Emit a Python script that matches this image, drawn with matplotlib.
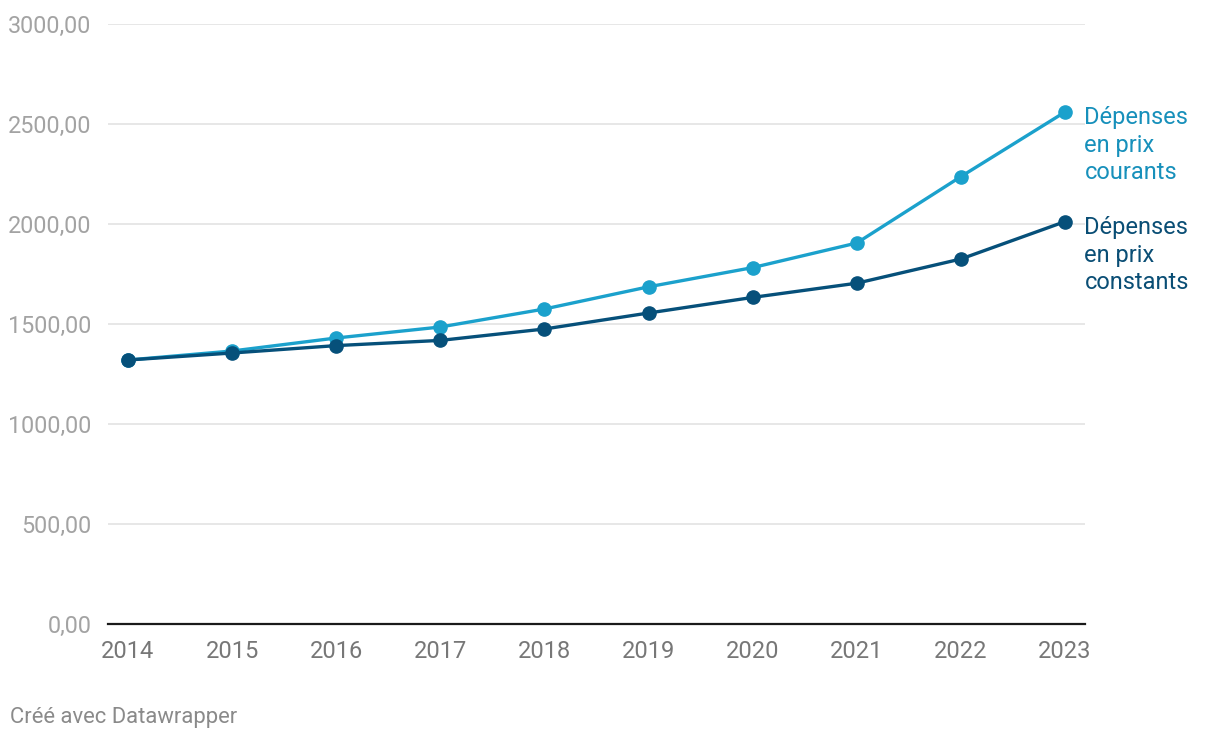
import numpy as np
import matplotlib.pyplot as plt

plt.rcParams['font.family'] = ['Roboto', 'DejaVu Sans']

# data
years = [2014, 2015, 2016, 2017, 2018, 2019, 2020, 2021, 2022, 2023]
courants = [1320, 1365, 1430, 1485, 1575, 1686, 1782, 1905, 2237, 2560]
constants = [1320, 1355, 1392, 1418, 1475, 1555, 1633, 1704, 1825, 2012]
yticks = [0, 500, 1000, 1500, 2000, 2500, 3000]
ytick_labels = ['0,00', '500,00', '1000,00', '1500,00', '2000,00', '2500,00', '3000,00']
label_courants = 'Dépenses\nen prix\ncourants'
label_constants = 'Dépenses\nen prix\nconstants'

c_light = '#1ba1cc'
c_dark = '#06507a'

fig = plt.figure(figsize=(12.2, 7.4), dpi=100)
ax = fig.add_axes([108/1220, 116/740, (1085-108)/1220, 600/740])

ax.plot(years, courants, color=c_light, lw=2.4, marker='o', ms=9.5, zorder=3,
        solid_capstyle='round')
ax.plot(years, constants, color=c_dark, lw=2.4, marker='o', ms=9.5, zorder=4,
        solid_capstyle='round')

ax.set_xlim(2014 - 20/104.2, 2023 + 20/104.2)
ax.set_ylim(0, 3000)
ax.set_yticks(yticks)
ax.set_yticklabels(ytick_labels)
ax.set_xticks(years)
ax.set_xticklabels([str(y) for y in years])

ax.grid(axis='y', color='#e3e3e3', lw=1.2)
ax.set_axisbelow(True)
for s in ['top', 'right', 'left']:
    ax.spines[s].set_visible(False)
ax.spines['bottom'].set_color('#1a1a1a')
ax.spines['bottom'].set_linewidth(1.6)
ax.spines['bottom'].set_zorder(5)

ax.tick_params(axis='y', length=0, pad=12, labelsize=16.8, labelcolor='#a3a3a3')
ax.tick_params(axis='x', length=0, pad=11.5, labelsize=17, labelcolor='#777777')

ax.annotate(label_courants, xy=(years[-1], courants[-1]), xytext=(14, 4),
            textcoords='offset points', ha='left', va='top', fontsize=17,
            color='#1790bb', linespacing=1.25)
ax.annotate(label_constants, xy=(years[-1], constants[-1]), xytext=(14, 4),
            textcoords='offset points', ha='left', va='top', fontsize=17,
            color='#0a4e75', linespacing=1.25)

fig.text(10/1220, 1 - 717/740, 'Créé avec Datawrapper', ha='left', va='center',
         fontsize=15.8, color='#8a8a8a')

fig.savefig('out.png', dpi=100)
